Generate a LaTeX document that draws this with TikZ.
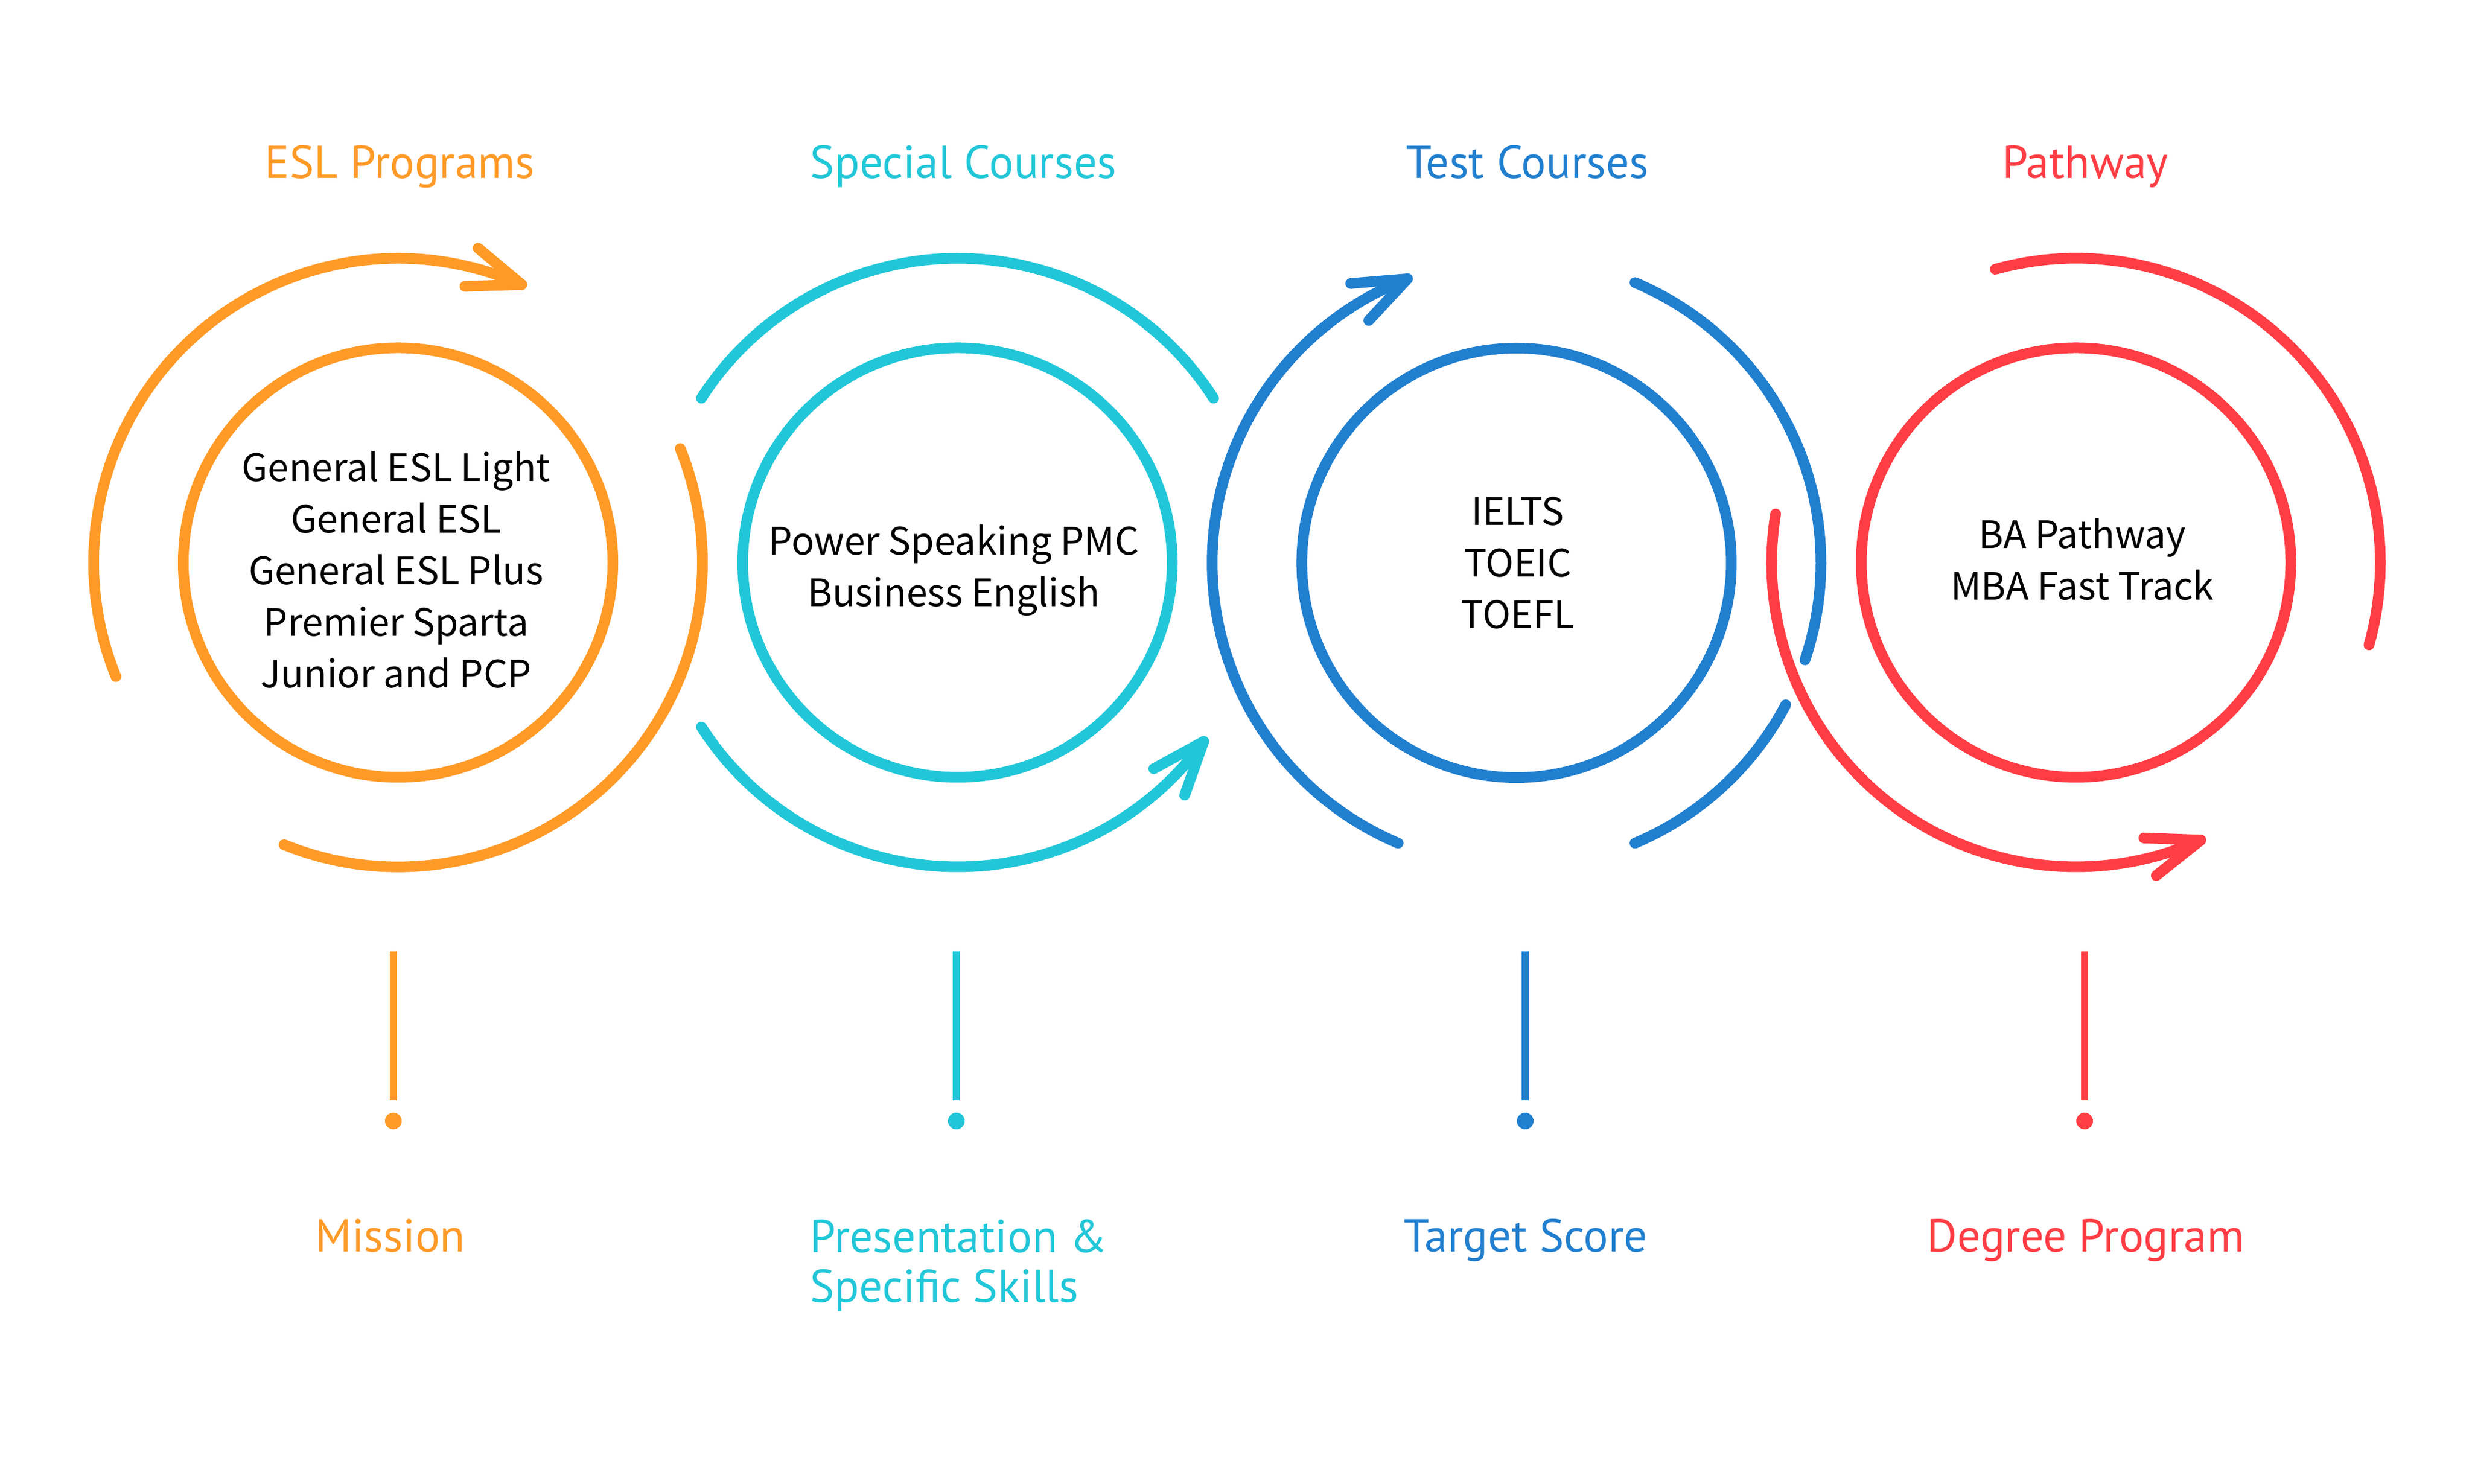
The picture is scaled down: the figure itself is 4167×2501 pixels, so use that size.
\documentclass[tikz,border=0pt]{standalone}
\usepackage{fontspec}
\setmainfont{Noto Sans CJK KR}
\newfontfamily\headfont{PT Sans}
\definecolor{orangeC}{HTML}{FF9A27}
\definecolor{cyanC}{HTML}{21C7D8}
\definecolor{blueC}{HTML}{217FCF}
\definecolor{redC}{HTML}{FF3D44}
\begin{document}
\begin{tikzpicture}[x=1bp,y=1bp,
  ringline/.style={line width=18bp, line cap=round, line join=round},
  innerring/.style={circle, draw, line width=18bp, minimum size=724bp, inner sep=0pt},
  stem/.style={line width=12bp, line cap=butt},
  dotnode/.style={circle, minimum size=28bp, inner sep=0pt},
  headtext/.style={font=\headfont\fontsize{78}{85}\selectfont, inner sep=0pt},
  bodytext/.style={font=\fontsize{64}{87.4}\selectfont, align=center, inner sep=0pt, text=black}
]
\useasboundingbox[fill=white] (0,0) rectangle (4167,2501);

% centres
\coordinate (cO) at (671,1552.5);
\coordinate (cC) at (1614,1552.5);
\coordinate (cB) at (2556.4,1552);
\coordinate (cR) at (3499.5,1552.5);

% titles
\node[headtext, text=orangeC, anchor=base] (tO) at (674,2200) {ESL Programs};
\node[headtext, text=cyanC, anchor=base] (tC) at (1624,2200) {Special Courses};
\node[headtext, text=blueC, anchor=base] (tB) at (2575,2200) {Test Courses};
\node[headtext, text=redC, anchor=base] (tR) at (3515,2200) {Pathway};

% inner circles
\node[innerring, draw=orangeC] (ringO) at (cO) {};
\node[innerring, draw=cyanC] (ringC) at (cC) {};
\node[innerring, draw=blueC] (ringB) at (cB) {};
\node[innerring, draw=redC] (ringR) at (cR) {};

% inner texts (anchor = baseline of last line)
\node[bodytext, anchor=base] (xO) at (667.8,1341.2) {General ESL Light\\General ESL\\General ESL Plus\\Premier Sparta\\Junior and PCP};
\node[bodytext, anchor=base] (xC) at (1607.7,1478.3) {Power Speaking PMC\\Business English};
\node[bodytext, anchor=base] (xB) at (2558.5,1441) {IELTS\\TOEIC\\TOEFL};
\node[bodytext, anchor=base] (xR) at (3510,1489.8) {BA Pathway\\MBA Fast Track};

% orange outer arcs
\draw[ringline, orangeC] (cO) ++(202:513) arc[start angle=202, end angle=66, radius=513] coordinate (tipO);
\draw[ringline, orangeC] (tipO) -- ++(140.2:96) (tipO) -- ++(181.7:96);
\draw[ringline, orangeC] (cO) ++(-112:513) arc[start angle=-112, end angle=22, radius=513];

% cyan outer arcs
\draw[ringline, cyanC] (cC) ++(147.3:513) arc[start angle=147.3, end angle=32.7, radius=513];
\draw[ringline, cyanC] (cC) ++(212.7:513) arc[start angle=212.7, end angle=324, radius=513] coordinate (tipC);
\draw[ringline, cyanC] (tipC) -- ++(208.7:96) (tipC) -- ++(250.5:96);

% blue outer arcs
\draw[ringline, blueC] (cB) ++(247.1:513) arc[start angle=247.1, end angle=111, radius=513] coordinate (tipB);
\draw[ringline, blueC] (tipB) -- ++(184.7:96) (tipB) -- ++(227.1:96);
\draw[ringline, blueC] (cB) ++(67.1:513) arc[start angle=67.1, end angle=-18.6, radius=513];
\draw[ringline, blueC] (cB) ++(-27.8:513) arc[start angle=-27.8, end angle=-67.1, radius=513];

% red outer arcs
\draw[ringline, redC] (cR) ++(105.4:513) arc[start angle=105.4, end angle=-15.7, radius=513];
\draw[ringline, redC] (cR) ++(170.8:513) arc[start angle=170.8, end angle=294.2, radius=513] coordinate (tipR);
\draw[ringline, redC] (tipR) -- ++(177.9:96) (tipR) -- ++(218.6:96);

% stems and dots
\coordinate (sO) at (663,897);  \coordinate (eO) at (663,646);
\coordinate (sC) at (1612,897); \coordinate (eC) at (1612,646);
\coordinate (sB) at (2571,897); \coordinate (eB) at (2571,646);
\coordinate (sR) at (3514,897); \coordinate (eR) at (3514,646);
\draw[stem, orangeC] (sO) -- (eO);
\draw[stem, cyanC] (sC) -- (eC);
\draw[stem, blueC] (sB) -- (eB);
\draw[stem, redC] (sR) -- (eR);
\node[dotnode, fill=orangeC] (dO) at (663,611) {};
\node[dotnode, fill=cyanC] (dC) at (1612,611) {};
\node[dotnode, fill=blueC] (dB) at (2571,611) {};
\node[dotnode, fill=redC] (dR) at (3514,611) {};

% bottom labels
\node[headtext, text=orangeC, anchor=base] (bO) at (658,390) {Mission};
\node[headtext, text=cyanC, anchor=base west, align=left] (bC) at (1365,305) {Presentation \&\\Specific Skills};
\node[headtext, text=blueC, anchor=base] (bB) at (2572,390) {Target Score};
\node[headtext, text=redC, anchor=base] (bR) at (3516,390) {Degree Program};
\end{tikzpicture}
\end{document}
